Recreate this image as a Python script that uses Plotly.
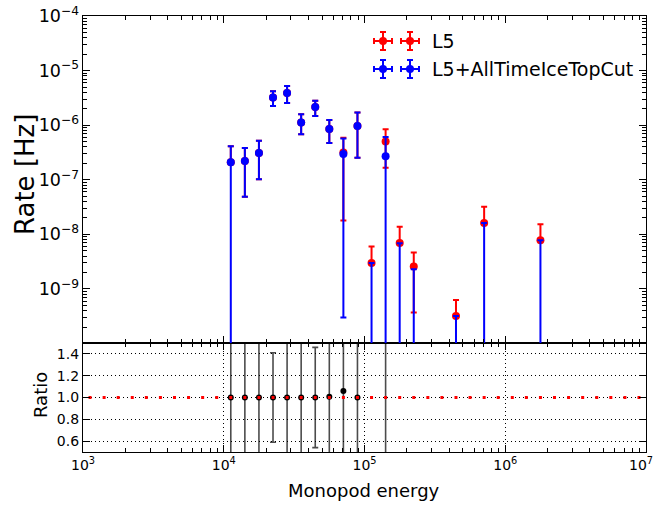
import plotly.graph_objects as go

# ---------------- data ----------------
# log10 of bin-centre energies (Monopod energy)
bin_log10 = [4.05, 4.15, 4.25, 4.35, 4.45, 4.55, 4.65, 4.75, 4.85, 4.95,
             5.05, 5.15, 5.25, 5.35, 5.65, 5.85, 6.25]

# L5 (red)
l5_rate = [2.1e-7, 2.2e-7, 3.1e-7, 3.2e-6, 3.9e-6, 1.12e-6, 2.16e-6, 8.5e-7, 3.16e-7, 9.7e-7,
           3.0e-9, 5.0e-7, 6.95e-9, 2.57e-9, 3.2e-10, 1.62e-8, 7.8e-9]
l5_err_up = [2.0e-7, 1.6e-7, 2.1e-7, 1.0e-6, 1.3e-6, 4.6e-7, 6.4e-7, 3.9e-7, 2.7e-7, 7.3e-7,
             3.0e-9, 3.4e-7, 6.9e-9, 2.1e-9, 3.1e-10, 1.6e-8, 7.5e-9]
l5_err_down = [2.1e-7, 1.71e-7, 2.08e-7, 9.6e-7, 1.34e-6, 4.4e-7, 6.9e-7, 3.8e-7, 2.98e-7, 7.16e-7,
               3.0e-9, 3.34e-7, 6.95e-9, 2.2e-9, 3.2e-10, 1.62e-8, 7.8e-9]

# L5 + AllTimeIceTopCut (blue); 0 = empty bin (only an upper error shown)
cut_rate = [2.1e-7, 2.2e-7, 3.1e-7, 3.2e-6, 3.9e-6, 1.12e-6, 2.16e-6, 8.5e-7, 2.95e-7, 9.7e-7,
            0, 2.7e-7, 0, 0, 0, 0, 0]
cut_err_up = [2.0e-7, 1.6e-7, 2.1e-7, 1.0e-6, 1.3e-6, 4.6e-7, 6.4e-7, 3.9e-7, 2.75e-7, 7.3e-7,
              3.0e-9, 3.4e-7, 6.9e-9, 2.3e-9, 3.2e-10, 1.62e-8, 7.8e-9]
cut_err_down = [2.1e-7, 1.71e-7, 2.08e-7, 9.6e-7, 1.34e-6, 4.4e-7, 6.9e-7, 3.8e-7, 2.947e-7, 7.16e-7,
                0, 2.7e-7, 0, 0, 0, 0, 0]

# ratio panel (L5 / L5+AllTimeIceTopCut)
ratio_log10 = [4.05, 4.15, 4.25, 4.35, 4.45, 4.55, 4.65, 4.75, 4.85, 4.95, 5.15]
ratio_val = [1.0, 1.0, 1.0, 1.0, 1.0, 1.0, 1.0, 1.006, 1.06, 1.0, 1.85]
ratio_err = [1.0, 0.9, 0.8, 0.41, 0.6, 0.7, 0.46, 0.7, 1.2, 0.9, 1.6]

# reference ratio (L5 / L5) in every histogram bin
ref_log10 = [3.05, 3.15, 3.25, 3.35, 3.45, 3.55, 3.65, 3.75, 3.85, 3.95,
             4.05, 4.15, 4.25, 4.35, 4.45, 4.55, 4.65, 4.75, 4.85, 4.95,
             5.05, 5.15, 5.25, 5.35, 5.45, 5.55, 5.65, 5.75, 5.85, 5.95,
             6.05, 6.15, 6.25, 6.35, 6.45, 6.55, 6.65, 6.75, 6.85, 6.95]
ref_val = [1.0] * 40

x_tick_vals = [1e3, 1e4, 1e5, 1e6, 1e7]
x_tick_text = ["10<sup>3</sup>", "10<sup>4</sup>", "10<sup>5</sup>", "10<sup>6</sup>", "10<sup>7</sup>"]

legend_labels = ["L5", "L5+AllTimeIceTopCut"]
x_title = "Monopod energy"
y_title = "Rate [Hz]"
y2_title = "Ratio"

# ---------------- figure ----------------
FONT = "DejaVu Sans"
W, H = 655, 505
ML, MR, MT, MB = 83, 9, 16, 53
PW, PH = W - ML - MR, H - MT - MB


def pxx(px):
    return (px - ML) / PW


def pxy(py):
    return (H - MB - py) / PH


E = [10 ** v for v in bin_log10]

# on a log axis a lower error reaching <= 0 is masked (not drawn) for L5
l5_minus_drawn = [d if r - d > 0 else 0 for r, d in zip(l5_rate, l5_err_down)]

fig = go.Figure()

# red: L5
fig.add_trace(go.Scatter(
    x=E, y=l5_rate, mode="markers", xaxis="x2", yaxis="y",
    marker=dict(color="red", size=8, line=dict(width=0)),
    error_y=dict(type="data", symmetric=False, array=l5_err_up, arrayminus=l5_minus_drawn,
                 color="red", thickness=2, width=3),
    showlegend=False, cliponaxis=True))

# blue: L5+cut, filled bins
bx, by, bu, bd = [], [], [], []
ex, ey, ed = [], [], []
for e, r, u, d in zip(E, cut_rate, cut_err_up, cut_err_down):
    if r > 0:
        bx.append(e); by.append(r); bu.append(u); bd.append(d)
    else:
        ex.append(e); ey.append(r + u); ed.append(u)

fig.add_trace(go.Scatter(
    x=bx, y=by, mode="markers", xaxis="x2", yaxis="y",
    marker=dict(color="blue", size=8, line=dict(width=0)),
    error_y=dict(type="data", symmetric=False, array=bu, arrayminus=bd,
                 color="blue", thickness=2, width=3),
    showlegend=False, cliponaxis=True))

# blue: empty bins, only the upper error bar
fig.add_trace(go.Scatter(
    x=ex, y=ey, mode="markers", xaxis="x2", yaxis="y",
    marker=dict(color="rgba(0,0,255,0)", size=1),
    error_y=dict(type="data", symmetric=False, array=[0] * len(ey), arrayminus=ed,
                 color="blue", thickness=2, width=3),
    showlegend=False, cliponaxis=True))

# ratio
fig.add_trace(go.Scatter(
    x=[10 ** v for v in ratio_log10], y=ratio_val, mode="markers", xaxis="x", yaxis="y2",
    marker=dict(color="black", size=6, line=dict(width=0)),
    error_y=dict(type="data", array=ratio_err, color="rgba(0,0,0,0.7)", thickness=1.6, width=3),
    showlegend=False, cliponaxis=True))

fig.add_trace(go.Scatter(
    x=[10 ** v for v in ref_log10], y=ref_val, mode="markers", xaxis="x", yaxis="y2",
    marker=dict(color="red", size=3, symbol="square", line=dict(width=0)),
    showlegend=False, cliponaxis=True))

axis_common = dict(
    showline=True, linecolor="black", linewidth=1.3, mirror="ticks",
    ticks="inside", ticklen=7, tickwidth=1, tickcolor="black",
    tickfont=dict(family=FONT, size=14, color="black"),
    zeroline=False, automargin=False,
)
GRID_DASH = "1px,3px"

# the last x label sits at the right edge of the page: drawn as text kept inside the page
shown_x_text = x_tick_text[:-1] + [""]

fig.update_layout(
    width=W, height=H,
    margin=dict(l=ML, r=MR, t=MT, b=MB, autoexpand=False),
    paper_bgcolor="white", plot_bgcolor="white",
    font=dict(family=FONT, color="black"),
    showlegend=False,
    xaxis=dict(
        **axis_common, type="log", range=[3, 7], domain=[0, 1], anchor="y2",
        tickmode="array", tickvals=x_tick_vals, ticktext=shown_x_text,
        showgrid=True, gridcolor="black", griddash=GRID_DASH, gridwidth=1,
        minor=dict(ticks="inside", ticklen=4, tickcolor="black", dtick="D1", showgrid=False),
    ),
    xaxis2=dict(
        **axis_common, type="log", range=[3, 7], domain=[0, 1], anchor="y", matches="x",
        tickmode="array", tickvals=x_tick_vals, showticklabels=False, showgrid=False,
        minor=dict(ticks="inside", ticklen=4, tickcolor="black", dtick="D1", showgrid=False),
    ),
    yaxis=dict(
        **axis_common, type="log", range=[-9.99, -4], domain=[0.25, 1], anchor="x2",
        dtick=1, exponentformat="power", showgrid=False,
        minor=dict(ticks="inside", ticklen=4, tickcolor="black", dtick="D1", showgrid=False),
    ),
    yaxis2=dict(
        **axis_common, range=[0.5, 1.5], domain=[0, 0.25], anchor="x",
        tick0=0.6, dtick=0.2, tickformat=".1f",
        showgrid=True, gridcolor="black", griddash=GRID_DASH, gridwidth=1,
    ),
)

fig.add_annotation(text=x_tick_text[-1], xref="paper", yref="paper", x=pxx(655), y=pxy(464),
                   showarrow=False, xanchor="right", yanchor="middle",
                   font=dict(family=FONT, size=14, color="black"))

# axis titles
fig.add_annotation(text=y_title, xref="paper", yref="paper", x=pxx(25), y=pxy(175),
                   textangle=-90, showarrow=False, font=dict(family=FONT, size=26, color="black"),
                   xanchor="center", yanchor="middle")
fig.add_annotation(text=y2_title, xref="paper", yref="paper", x=pxx(40), y=pxy(395),
                   textangle=-90, showarrow=False, font=dict(family=FONT, size=18, color="black"),
                   xanchor="center", yanchor="middle")
fig.add_annotation(text=x_title, xref="paper", yref="paper", x=pxx(364), y=pxy(490),
                   showarrow=False, font=dict(family=FONT, size=18, color="black"),
                   xanchor="center", yanchor="middle")

# custom legend (errorbar-style symbols, two points per entry)
legend_rows = [(41, "red", legend_labels[0]), (69, "blue", legend_labels[1])]
for ypx, col, label in legend_rows:
    for xpx in (383, 410):
        segs = [
            (xpx - 9, ypx, xpx + 9, ypx),
            (xpx, ypx - 9, xpx, ypx + 9),
            (xpx - 9, ypx - 3, xpx - 9, ypx + 3),
            (xpx + 9, ypx - 3, xpx + 9, ypx + 3),
            (xpx - 3, ypx - 9, xpx + 3, ypx - 9),
            (xpx - 3, ypx + 9, xpx + 3, ypx + 9),
        ]
        for x0, y0, x1, y1 in segs:
            fig.add_shape(type="line", xref="paper", yref="paper",
                          x0=pxx(x0), y0=pxy(y0), x1=pxx(x1), y1=pxy(y1),
                          line=dict(color=col, width=2))
        fig.add_shape(type="circle", xref="paper", yref="paper",
                      x0=pxx(xpx - 4), y0=pxy(ypx - 4), x1=pxx(xpx + 4), y1=pxy(ypx + 4),
                      fillcolor=col, line=dict(color=col, width=0))
    fig.add_annotation(text=label, xref="paper", yref="paper", x=pxx(430), y=pxy(ypx),
                       showarrow=False, xanchor="left", yanchor="middle",
                       font=dict(family=FONT, size=19, color="black"))

fig.write_html("out.html")
